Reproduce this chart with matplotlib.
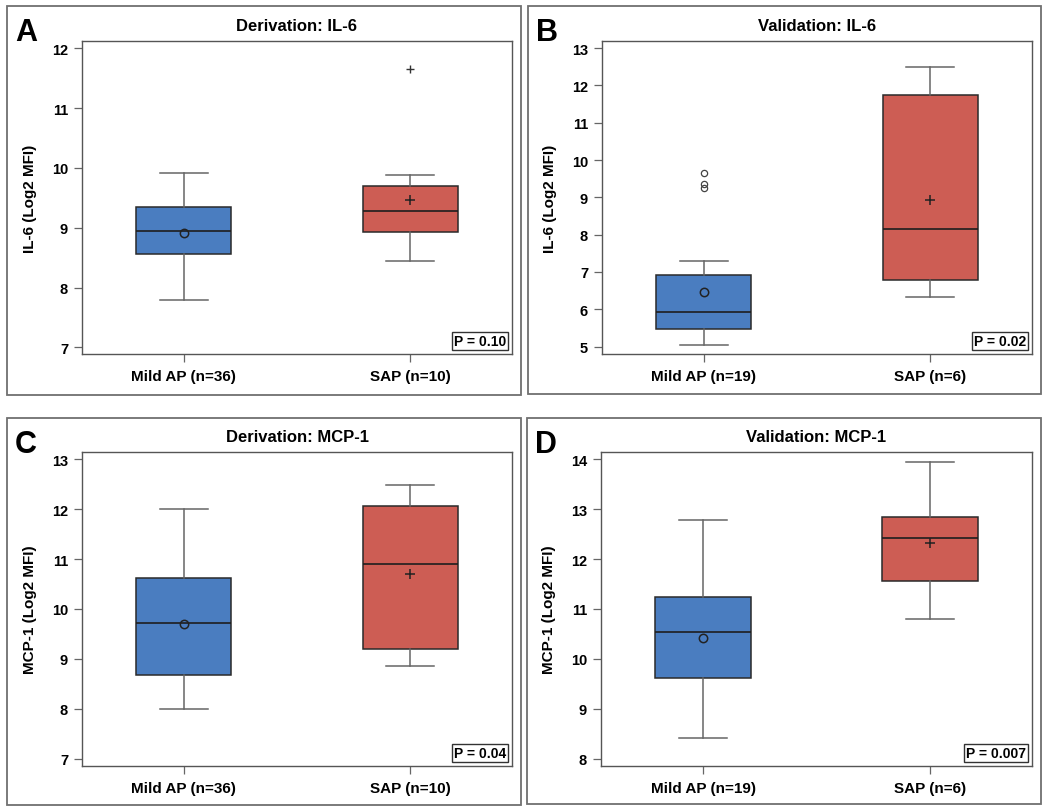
import matplotlib
matplotlib.use('Agg')
import matplotlib.pyplot as plt
from matplotlib.patches import Rectangle
from matplotlib.ticker import MultipleLocator

plt.rcParams['font.family'] = ['Liberation Sans', 'DejaVu Sans']
plt.rcParams['font.weight'] = 'bold'

# panel text
letters = ['A', 'B', 'C', 'D']
titles = ['Derivation: IL-6', 'Validation: IL-6', 'Derivation: MCP-1', 'Validation: MCP-1']
ylabels = ['IL-6 (Log2 MFI)', 'IL-6 (Log2 MFI)', 'MCP-1 (Log2 MFI)', 'MCP-1 (Log2 MFI)']
xlabels = [['Mild AP (n=36)', 'SAP (n=10)'],
           ['Mild AP (n=19)', 'SAP (n=6)'],
           ['Mild AP (n=36)', 'SAP (n=10)'],
           ['Mild AP (n=19)', 'SAP (n=6)']]
pvalues = ['P = 0.10', 'P = 0.02', 'P = 0.04', 'P = 0.007']
ylims = [(6.89, 12.12), (4.80, 13.19), (6.85, 13.15), (7.85, 14.15)]

# box statistics, one value per panel A-D
mild_whislo = [7.79, 5.05, 7.99, 8.41]
mild_q1 = [8.56, 5.48, 8.68, 9.61]
mild_med = [8.94, 5.93, 9.72, 10.53]
mild_q3 = [9.34, 6.91, 10.63, 11.24]
mild_whishi = [9.91, 7.29, 12.01, 12.78]
mild_mean = [8.92, 6.45, 9.69, 10.41]
mild_fliers = [[], [9.66, 9.35, 9.26], [], []]

sap_whislo = [8.44, 6.33, 8.86, 10.80]
sap_q1 = [8.93, 6.79, 9.19, 11.56]
sap_med = [9.28, 8.16, 10.90, 12.43]
sap_q3 = [9.69, 11.74, 12.07, 12.85]
sap_whishi = [9.88, 12.49, 12.49, 13.95]
sap_mean = [9.47, 8.94, 10.70, 12.33]
sap_fliers = [[11.66], [], [], []]

blue = '#4a7dc0'
red = '#cd5d54'
W, H = 1050, 812

fig = plt.figure(figsize=(10.5, 8.12), dpi=100)

# pixel layout: (frame l, t, r, b), (axes l, t, r, b)
frames = [(7, 7, 521, 396), (528, 7, 1041, 395), (7, 419, 521, 806), (527, 419, 1041, 805)]
axboxes = [(82, 42, 512, 355), (602, 42, 1032, 355), (82, 453, 512, 767), (601, 453, 1032, 767)]

for i in range(4):
    fl, ft, fr, fb = frames[i]
    fig.patches.append(Rectangle((fl / W, 1 - fb / H), (fr - fl) / W, (fb - ft) / H,
                                 transform=fig.transFigure, fill=False,
                                 edgecolor='#707070', linewidth=1.3))
    fig.text((fl + 8) / W, 1 - (ft + 34) / H, letters[i], fontsize=22, fontweight='bold')

    l, t, r, b = axboxes[i]
    ax = fig.add_axes([l / W, 1 - b / H, (r - l) / W, (b - t) / H])

    groups = [
        dict(whislo=mild_whislo[i], q1=mild_q1[i], med=mild_med[i], q3=mild_q3[i],
             whishi=mild_whishi[i], mean=mild_mean[i], fliers=mild_fliers[i]),
        dict(whislo=sap_whislo[i], q1=sap_q1[i], med=sap_med[i], q3=sap_q3[i],
             whishi=sap_whishi[i], mean=sap_mean[i], fliers=sap_fliers[i]),
    ]
    colors = [blue, red]
    markers = ['o', '+']
    for j in range(2):
        if markers[j] == 'o':
            meanprops = dict(marker='o', markerfacecolor='none', markeredgecolor='#222222',
                             markersize=6, markeredgewidth=1.1)
            flierprops = dict(marker='o', markerfacecolor='none', markeredgecolor='#444444',
                              markersize=4.5, markeredgewidth=0.9)
        else:
            meanprops = dict(marker='+', markeredgecolor='#222222', markersize=7.5,
                             markeredgewidth=1.1)
            flierprops = dict(marker='+', markeredgecolor='#333333', markersize=5.5,
                              markeredgewidth=1.0)
        ax.bxp([groups[j]], positions=[j + 1], widths=0.42, capwidths=0.21,
               patch_artist=True, showmeans=True, meanline=False,
               boxprops=dict(facecolor=colors[j], edgecolor='#2a2a2a', linewidth=1.1),
               medianprops=dict(color='#1e1e1e', linewidth=1.2),
               whiskerprops=dict(color='#666666', linewidth=1.1),
               capprops=dict(color='#666666', linewidth=1.1),
               meanprops=meanprops, flierprops=flierprops)

    ax.set_xlim(0.55, 2.45)
    ax.set_ylim(*ylims[i])
    ax.yaxis.set_major_locator(MultipleLocator(1))
    ax.set_xticks([1, 2])
    ax.set_xticklabels(xlabels[i], fontsize=11, fontweight='bold')
    for lab in ax.get_yticklabels():
        lab.set_fontsize(10.5)
        lab.set_fontweight('bold')
    ax.tick_params(axis='both', direction='out', length=6, width=0.9, color='#666666', pad=4)
    ax.tick_params(axis='x', pad=5)
    for s in ax.spines.values():
        s.set_color('#555555')
        s.set_linewidth(1.0)
    ax.set_ylabel(ylabels[i], fontsize=11, fontweight='bold', labelpad=11)
    ax.set_title(titles[i], fontsize=12, fontweight='bold', pad=8)

    ax.annotate(pvalues[i], xy=(1, 0), xycoords='axes fraction', xytext=(-6, 6),
                textcoords='offset pixels', ha='right', va='bottom',
                fontsize=10, fontweight='bold',
                bbox=dict(boxstyle='square,pad=0.15', facecolor='white',
                          edgecolor='#333333', linewidth=1.0))

fig.savefig('out.png', dpi=100)
